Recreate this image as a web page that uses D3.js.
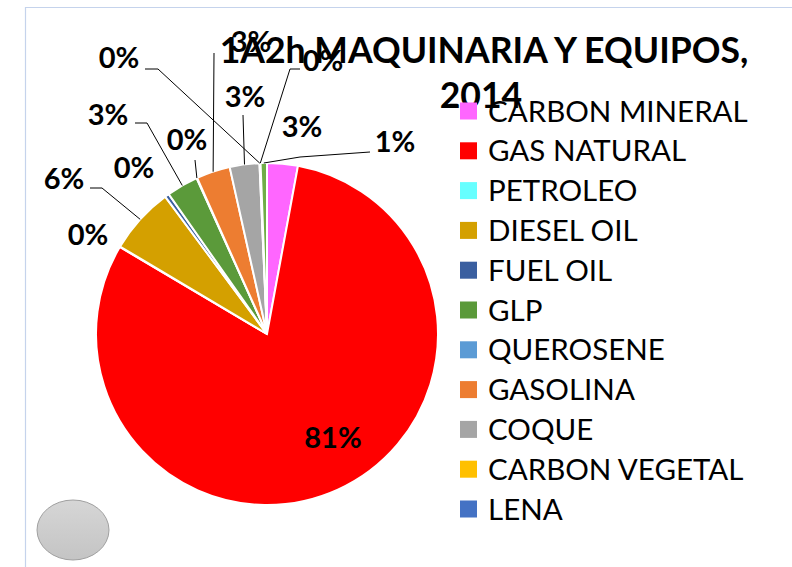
<html>
<head>
<title>1A2h Maquinaria y Equipos 2014</title>
<script type="text/javascript" src="https://cdn.jsdelivr.net/npm/d3@7"></script>
<style>
  * { margin: 0; padding: 0; }
  body { background: #fff; }
  #chart { width: 792px; height: 567px; }
  text { font-family: Lato, "Open Sans", sans-serif; }
</style>
</head>
<body>
<div id="chart"></div>
<script type="text/javascript">
  // data, in the order the slices are drawn (clockwise from 12 o'clock)
  var categories = ['CARBON MINERAL', 'GAS NATURAL', 'PETROLEO', 'DIESEL OIL', 'FUEL OIL', 'GLP',
    'QUEROSENE', 'GASOLINA', 'COQUE', 'CARBON VEGETAL', 'LENA', 'OTROS'];
  var shares = [2.9, 80.6, 0.05, 6.3, 0.4, 3.0, 0.05, 3.2, 2.8, 0.05, 0.05, 0.6];
  var colors = ['#ff66ff', '#ff0000', '#66ffff', '#d4a000', '#3a5fa0', '#5b9a3a',
    '#5b9bd5', '#ed7d31', '#a5a5a5', '#ffc000', '#4472c4', '#70ad47'];
  var legendCount = 11; // the last entry does not fit in the legend box
  var titleLines = ['1A2h MAQUINARIA Y EQUIPOS,', '2014'];

  // label placement (text centre / baseline) and leader elbows, per slice
  var labelPos = [[302, 137], [333, 448], [88, 245], [64, 189], [134, 178], [108, 125],
    [187, 150], [251, 52], [245, 107], [119, 68], [323, 71], [395, 152]];
  var leaders = [null, null, null,
    [[90, 188], [102, 188]],
    null,
    [[135, 123], [147, 123]],
    [[195, 160]],
    [[214, 53]],
    [[243, 115]],
    [[145, 69], [158, 69]],
    [[300, 69], [290, 69]],
    [[370, 152], [300, 157]]];

  var W = 792, H = 567;
  var cx = 267, cy = 334, R = 171;

  var svg = d3.select('#chart').append('svg')
      .attr('width', W).attr('height', H);

  // chart area border (top and left only visible)
  svg.append('path')
      .attr('d', 'M25.5 567 L25.5 7.5 L792 7.5')
      .attr('fill', 'none')
      .attr('stroke', '#c5d3ec')
      .attr('stroke-width', 1.2);

  // title
  var title = svg.append('text')
      .attr('text-anchor', 'middle')
      .attr('font-weight', 'bold')
      .attr('font-size', '35.6px')
      .attr('fill', '#000');
  title.selectAll('tspan').data(titleLines).enter().append('tspan')
      .attr('x', function(d, i) { return i ? 481 : 484; })
      .attr('y', function(d, i) { return 63 + i * 45; })
      .text(function(d) { return d; });

  var total = d3.sum(shares);
  var pie = d3.pie().sort(null).value(function(d) { return d; });
  var arcs = pie(shares);
  var arc = d3.arc().innerRadius(0).outerRadius(R);

  var g = svg.append('g').attr('transform', 'translate(' + cx + ',' + cy + ')');
  g.selectAll('path.slice').data(arcs)
    .enter().append('path')
      .attr('class', 'slice')
      .attr('d', arc)
      .attr('fill', function(d, i) { return colors[i]; })
      .attr('stroke', '#fff')
      .attr('stroke-width', 2);

  // leader lines: label elbow(s) -> outer edge at the slice mid angle
  var edgePoint = function(d) {
    var a = (d.startAngle + d.endAngle) / 2;
    return [cx + R * Math.sin(a), cy - R * Math.cos(a)];
  };
  var line = d3.line();
  arcs.forEach(function(d, i) {
    if (!leaders[i]) return;
    var pts = leaders[i].concat([edgePoint(d)]);
    svg.append('path')
        .attr('d', line(pts))
        .attr('fill', 'none')
        .attr('stroke', '#000')
        .attr('stroke-width', 1);
  });

  // percentage labels
  var fmt = function(v) { return Math.round(v / total * 100) + '%'; };
  svg.selectAll('text.lbl').data(arcs)
    .enter().append('text')
      .attr('class', 'lbl')
      .attr('x', function(d, i) { return labelPos[i][0]; })
      .attr('y', function(d, i) { return labelPos[i][1]; })
      .attr('text-anchor', 'middle')
      .attr('font-weight', 'bold')
      .attr('font-size', '29px')
      .attr('fill', '#000')
      .text(function(d) { return fmt(d.value); });

  // legend
  var legend = svg.append('g');
  var items = legend.selectAll('g').data(categories.slice(0, legendCount))
    .enter().append('g')
      .attr('transform', function(d, i) { return 'translate(460,' + (111 + i * 39.8) + ')'; });
  items.append('rect')
      .attr('x', 0).attr('y', -8.5)
      .attr('width', 17).attr('height', 17)
      .attr('fill', function(d, i) { return colors[i]; });
  items.append('text')
      .attr('x', 28).attr('y', 10.5)
      .attr('font-size', '29.5px')
      .attr('fill', '#000')
      .text(function(d) { return d; });

  // grey oval in the corner
  var grad = svg.append('defs').append('linearGradient')
      .attr('id', 'ovalGrad').attr('x1', 0).attr('y1', 0).attr('x2', 0).attr('y2', 1);
  grad.append('stop').attr('offset', '0%').attr('stop-color', '#d6d6d6');
  grad.append('stop').attr('offset', '100%').attr('stop-color', '#c4c4c4');
  svg.append('ellipse')
      .attr('cx', 73).attr('cy', 530)
      .attr('rx', 36).attr('ry', 30)
      .attr('fill', 'url(#ovalGrad)')
      .attr('stroke', '#a0a0a0')
      .attr('stroke-width', 1);
</script>
</body>
</html>
